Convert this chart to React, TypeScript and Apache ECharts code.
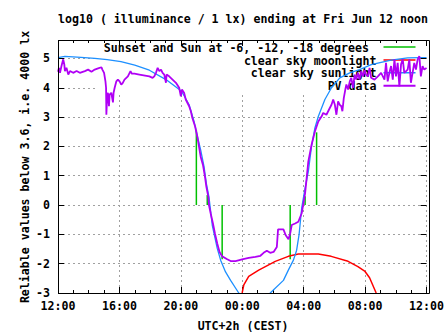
import React, { useEffect, useRef } from "react";
import * as echarts from "echarts";

// Hours after 12:00 (CEST) on the x axis
const xMin = 0;
const xMax = 24;
const xInterval = 4;
const yMin = -3;
const yMax = 5.63;

const titleText = "log10 ( illuminance / 1 lx) ending at Fri Jun 12 noon";
const yAxisTitle = "Reliable values below 3.6, i.e. 4000 lx";
const xAxisTitle = "UTC+2h (CEST)";
const legendLabels = [
  "Sunset and Sun at -6, -12, -18 degrees",
  "clear sky moonlight",
  "clear sky sunlight",
  "PV data",
];

// Sunset / Sun at -6, -12 degrees (impulses)
const greenT = [9.01, 9.72, 10.69, 15.12, 16.09, 16.84];
const greenV = [2.55, 0.34, -1.85, -1.85, 0.3, 2.48];

// clear sky moonlight
const redT = [11.99, 12.1, 12.42, 13.07, 14.15, 15.0, 15.65, 16.95, 17.79, 18.89, 19.53, 19.97, 20.29, 20.72];
const redV = [-3.0, -2.72, -2.43, -2.22, -1.92, -1.75, -1.67, -1.67, -1.75, -1.92, -2.1, -2.25, -2.48, -3.0];

// clear sky sunlight
const blueT = [0, 0.45, 1.5, 2.4, 3.2, 4.1, 5.0, 5.95, 7.03, 7.9, 8.1, 8.54, 8.86, 9.08, 9.29, 9.51, 9.66, 9.83, 10.05, 10.37, 10.59, 10.91, 11.24, 11.77, 12.8, 13.82, 14.68, 15.0, 15.33, 15.54, 15.7, 15.87, 16.08, 16.3, 16.51, 16.73, 16.95, 17.38, 17.81, 18.35, 19.0, 19.64, 20.4, 21.69, 22.77, 23.6, 24.0];
const blueV = [5.03, 5.07, 5.04, 5.0, 4.96, 4.89, 4.77, 4.6, 4.28, 3.94, 3.83, 3.42, 2.85, 2.34, 1.88, 1.31, 0.74, 0.28, -0.7, -1.48, -1.88, -2.28, -2.57, -3.0, -3.4, -3.0, -2.57, -2.22, -1.88, -1.54, -1.0, -0.1, 0.55, 1.14, 2.0, 2.63, 3.02, 3.6, 4.0, 4.34, 4.51, 4.62, 4.79, 4.94, 5.02, 5.03, 5.03];

// PV data
const purpleT = [0, 0.065, 0.13, 0.23, 0.34, 0.41, 0.45, 0.55, 0.67, 0.78, 0.99, 1.21, 1.42, 1.75, 1.96, 2.18, 2.39, 2.61, 2.83, 2.89, 3.0, 3.09, 3.13, 3.15, 3.2, 3.25, 3.32, 3.36, 3.47, 3.58, 3.62, 3.69, 3.8, 3.9, 4.01, 4.12, 4.22, 4.33, 4.55, 4.72, 4.81, 4.98, 5.3, 5.95, 6.16, 6.27, 6.38, 6.49, 6.6, 6.71, 6.81, 6.92, 7.03, 7.07, 7.24, 7.46, 7.68, 7.89, 8.0, 8.07, 8.21, 8.32, 8.54, 8.65, 8.75, 8.93, 9.07, 9.18, 9.29, 9.44, 9.57, 9.66, 9.79, 9.83, 9.94, 10.09, 10.22, 10.37, 10.52, 10.69, 11.02, 11.24, 11.56, 11.99, 12.42, 12.85, 13.18, 13.39, 13.6, 13.82, 14.04, 14.25, 14.33, 14.68, 14.83, 15.01, 15.12, 15.22, 15.44, 15.65, 15.87, 15.98, 16.09, 16.19, 16.3, 16.51, 16.73, 16.95, 17.16, 17.27, 17.48, 17.7, 17.81, 17.92, 18.03, 18.13, 18.24, 18.35, 18.45, 18.52, 18.61, 18.71, 18.78, 18.89, 19.0, 19.1, 19.21, 19.32, 19.42, 19.53, 19.64, 19.75, 19.86, 19.97, 20.05, 20.18, 20.29, 20.39, 20.61, 20.83, 21.04, 21.26, 21.36, 21.47, 21.58, 21.69, 21.8, 21.91, 22.01, 22.12, 22.23, 22.34, 22.45, 22.55, 22.77, 22.88, 22.98, 23.09, 23.2, 23.31, 23.42, 23.53, 23.63, 23.74, 23.85, 24.0];
const purpleV = [4.55, 4.68, 4.51, 4.75, 4.97, 4.8, 4.57, 4.68, 4.45, 4.57, 4.51, 4.57, 4.51, 4.57, 4.62, 4.55, 4.62, 4.66, 4.7, 4.62, 4.51, 4.22, 4.0, 3.08, 3.7, 3.83, 3.37, 3.77, 3.83, 3.5, 3.83, 4.0, 4.22, 4.28, 4.22, 4.11, 4.17, 4.28, 4.39, 4.57, 4.48, 4.48, 4.45, 4.39, 4.34, 4.39, 4.51, 4.68, 4.57, 4.62, 4.51, 4.45, 4.17, 4.45, 4.39, 4.28, 4.17, 4.0, 3.71, 3.94, 3.83, 3.6, 3.37, 3.2, 2.97, 2.68, 2.34, 2.0, 1.65, 1.37, 0.97, 0.63, 0.28, 0.0, -0.28, -0.63, -0.97, -1.31, -1.6, -1.75, -1.85, -1.91, -1.91, -1.85, -1.8, -1.77, -1.73, -1.63, -1.56, -1.63, -1.6, -1.43, -0.83, -0.83, -1.03, -1.17, -0.97, -0.68, -0.63, -0.57, -0.28, 0.06, 0.4, 0.91, 1.48, 2.05, 2.51, 2.85, 3.02, 3.14, 3.08, 3.31, 3.42, 3.6, 3.42, 3.08, 3.54, 3.42, 3.37, 3.2, 3.65, 3.94, 4.11, 3.94, 4.22, 4.34, 4.0, 4.45, 4.28, 4.51, 4.28, 4.57, 4.39, 4.6, 4.45, 4.39, 4.68, 4.34, 4.28, 4.39, 4.51, 4.28, 4.85, 4.22, 4.51, 4.74, 4.28, 4.97, 4.39, 4.85, 4.05, 4.8, 4.97, 4.51, 4.62, 4.97, 4.17, 4.51, 4.85, 4.62, 4.97, 5.08, 4.39, 4.74, 4.62, 4.68];

const GREEN = "#00c000";
const RED = "#ff0000";
const BLUE = "#1e90ff";
const PURPLE = "#b000f5";
const FONT = '"DejaVu Sans Mono", "Liberation Mono", monospace';
const FS = 11.6;

const zip = (a: number[], b: number[]) => a.map((t, i) => [t, b[i]]);

const fmtX = (v: number) => {
  const h = (12 + Math.round(v)) % 24;
  return (h < 10 ? "0" : "") + h + ":00";
};
const fmtY = (v: number) => (Math.abs(v - Math.round(v)) < 1e-6 ? String(Math.round(v)) : "");

export default function App() {
  const ref = useRef<HTMLDivElement>(null);
  useEffect(() => {
    document.body.style.margin = "0";
    const chart = echarts.init(ref.current!, null, { renderer: "svg" });
    const left = 58, top = 40, width = 371, height = 253;
    const tickCommon = {
      axisTick: { show: true, inside: true, length: 6, lineStyle: { color: "#000", width: 1 } },
      minorTick: { show: true, splitNumber: 4, length: 3, lineStyle: { color: "#000", width: 1 } },
    };
    const labelStyle = { fontFamily: FONT, fontWeight: "bold" as const, fontSize: FS, color: "#000" };
    const gridLine = { show: true, lineStyle: { color: "#a0a0a0", width: 1, type: [2, 3] as any } };
    const keyRight = 376.5;
    const keyRows = [47.5, 60.5, 73.3, 86.3];
    const keyColors = [GREEN, RED, BLUE, PURPLE];
    const keyRightEdges = [369, keyRight, keyRight, keyRight];
    const graphic: any[] = [
      {
        type: "rect", z: 1,
        shape: { x: 97, y: 41, width: 331.5, height: 51 },
        style: { fill: "#fff" },
      },
      ...legendLabels.map((txt, i) => ({
        type: "text", z: 1,
        x: keyRightEdges[i], y: keyRows[i],
        style: { text: txt, font: `bold ${FS}px ${FONT}`, fill: "#000", align: "right", verticalAlign: "middle", textAlign: "right", textVerticalAlign: "middle" },
      })),
      ...keyColors.map((c, i) => ({
        type: "line", z: 1,
        shape: { x1: 383.5, y1: keyRows[i] - 0.5, x2: 415.5, y2: keyRows[i] - 0.5 },
        style: { stroke: c, lineWidth: i === 3 ? 2 : 1.5 },
      })),
      {
        type: "text", z: 10, x: 243, y: 19,
        style: { text: titleText, font: `bold ${FS}px ${FONT}`, fill: "#000", align: "center", verticalAlign: "middle", textAlign: "center", textVerticalAlign: "middle" },
      },
      {
        type: "text", z: 10, x: 243, y: 326,
        style: { text: xAxisTitle, font: `bold ${FS}px ${FONT}`, fill: "#000", align: "center", verticalAlign: "middle", textAlign: "center", textVerticalAlign: "middle" },
      },
      {
        type: "text", z: 10, x: 25, y: 167, rotation: Math.PI / 2,
        style: { text: yAxisTitle, font: `bold ${FS}px ${FONT}`, fill: "#000", align: "center", verticalAlign: "middle", textAlign: "center", textVerticalAlign: "middle" },
      },
      {
        type: "rect", z: 20,
        shape: { x: left + 0.5, y: top + 0.5, width: width, height: height },
        style: { fill: "none", stroke: "#000", lineWidth: 1 },
      },
    ];

    const option: any = {
      animation: false,
      backgroundColor: "#fff",
      grid: { left, top, width, height, show: false },
      xAxis: [
        {
          type: "value", min: xMin, max: xMax, interval: xInterval, position: "bottom",
          axisLine: { show: false, onZero: false }, ...tickCommon, splitLine: gridLine,
          axisLabel: { ...labelStyle, formatter: fmtX, margin: 7, showMinLabel: true, showMaxLabel: true, hideOverlap: false },
          z: 0,
        },
        {
          type: "value", min: xMin, max: xMax, interval: xInterval, position: "top",
          axisLine: { show: false, onZero: false }, ...tickCommon, splitLine: { show: false },
          axisLabel: { show: false }, z: 5,
        },
      ],
      yAxis: [
        {
          type: "value", min: yMin, max: yMax, interval: 1, position: "left",
          axisLine: { show: false, onZero: false },
          axisTick: { show: true, inside: true, length: 6, lineStyle: { color: "#000" } },
          splitLine: gridLine,
          axisLabel: { ...labelStyle, formatter: fmtY, margin: 8, showMaxLabel: false },
          z: 0,
        },
        {
          type: "value", min: yMin, max: yMax, interval: 1, position: "right",
          axisLine: { show: false, onZero: false },
          axisTick: { show: true, inside: true, length: 6, lineStyle: { color: "#000" } },
          splitLine: { show: false }, axisLabel: { show: false }, z: 5,
        },
      ],
      series: [
        {
          name: legendLabels[0], type: "bar", xAxisIndex: 0, yAxisIndex: 0,
          data: zip(greenT, greenV), barWidth: 1.5,
          itemStyle: { color: GREEN }, z: 2,
        },
        {
          name: legendLabels[1], type: "line", data: zip(redT, redV), showSymbol: false,
          lineStyle: { color: RED, width: 1.5 }, z: 3, clip: true,
        },
        {
          name: legendLabels[2], type: "line", data: zip(blueT, blueV), showSymbol: false,
          lineStyle: { color: BLUE, width: 1.3 }, z: 3, clip: true,
        },
        {
          name: legendLabels[3], type: "line", data: zip(purpleT, purpleV), showSymbol: false,
          lineStyle: { color: PURPLE, width: 1.8 }, z: 4, clip: true,
        },
      ],
      graphic,
    };
    chart.setOption(option);
    return () => chart.dispose();
  }, []);
  return <div ref={ref} style={{ position: "absolute", left: 0, top: 0, width: 447, height: 335 }} />;
}
